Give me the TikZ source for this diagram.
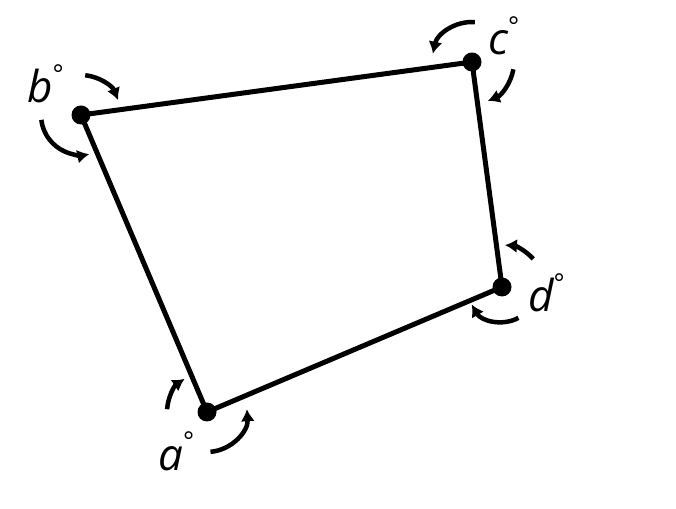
\documentclass[tikz,border=0pt]{standalone}
\usepackage{fontspec}
\setmainfont{Open Sans}
\usetikzlibrary{arrows.meta}
\newcommand{\mydeg}{\raisebox{0.45em}{\fontsize{26}{30}\selectfont\upshape °}}
\begin{document}
\begin{tikzpicture}[x=1pt,y=1pt,
  edge/.style={line width=5pt,line join=round},
  arr/.style={line width=4.5pt,-{Latex[length=12pt,width=14pt]}},
  vdot/.style={circle,fill=black,inner sep=0pt,minimum size=19pt},
  lab/.style={anchor=base west,inner sep=0pt,font=\fontsize{44}{50}\selectfont\itshape}]
\useasboundingbox (0,0) rectangle (676,508);
\coordinate (a) at (207,96);
\coordinate (b) at (81,393);
\coordinate (c) at (472,446);
\coordinate (d) at (502,221);
\draw[edge] (a) -- (b) -- (c) -- (d) -- cycle;
\foreach \v in {a,b,c,d} \node[vdot] (\v dot) at (\v) {};
% arcs at b
\draw[arr] (b) ++(84:40) arc[start angle=84, end angle=22, radius=40];
\draw[arr] (b) ++(187:40) arc[start angle=187, end angle=282, radius=40];
% arcs at c
\draw[arr] (c) ++(86:40) arc[start angle=86, end angle=168, radius=40];
\draw[arr] (c) ++(-10:42) arc[start angle=-10, end angle=-68, radius=42];
% arcs at d
\draw[arr] (d) ++(42:42) arc[start angle=42, end angle=86, radius=42];
\draw[arr] (d) ++(-62:35) arc[start angle=-62, end angle=-150, radius=35];
% arcs at a
\draw[arr] (a) ++(176:40) arc[start angle=176, end angle=124, radius=40];
\draw[arr] (a) ++(-85:40) arc[start angle=-85, end angle=4, radius=40];
% labels
\node[lab] (la) at (158,38) {a\mydeg};
\node[lab] (lb) at (27,405) {b\mydeg};
\node[lab] (lc) at (488,453) {c\mydeg};
\node[lab] (ld) at (528,196) {d\mydeg};
\end{tikzpicture}
\end{document}
